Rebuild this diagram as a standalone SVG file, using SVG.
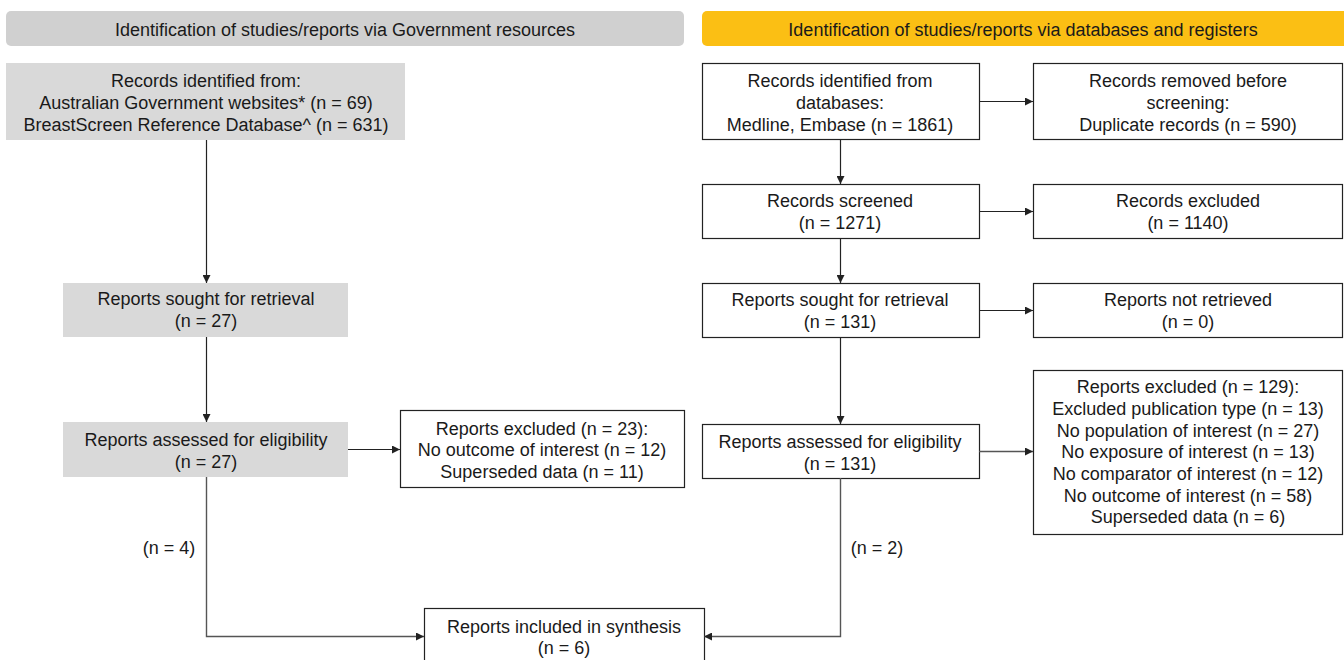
<svg xmlns="http://www.w3.org/2000/svg" width="1344" height="660" viewBox="0 0 1344 660">
<defs>
<style>
text{font-family:"Liberation Sans",Arial,sans-serif;font-size:18px;fill:#1a1a1a;text-anchor:middle}
.grey{fill:#d9d9d9}
.box{fill:#fff;stroke:#222;stroke-width:1.2}
.conn{fill:none;stroke:#222;stroke-width:1.2}
.conn2{fill:none;stroke:#555;stroke-width:1.4}
</style>
<marker id="ah" viewBox="0 0 10 10" refX="10" refY="5" markerWidth="8" markerHeight="8" markerUnits="userSpaceOnUse" orient="auto"><path d="M0,0 L10,5 L0,10 z" fill="#222"/></marker>
</defs>
<rect width="1344" height="660" fill="#fff"/>
<g id="hdr-gov"><rect x="6" y="11" width="678" height="35" rx="5" fill="#d0d0d0"/><text x="345" y="35.5">Identification of studies/reports via Government resources</text></g>
<g id="hdr-db"><rect x="702" y="11" width="648" height="35" rx="5" fill="#fbbf14"/><text x="1023" y="35.5">Identification of studies/reports via databases and registers</text></g>

<g id="gov-identified"><rect class="grey" x="6" y="63" width="399" height="77"/><text x="206" y="86.5">Records identified from:</text><text x="206" y="108.5">Australian Government websites* (n = 69)</text><text x="206" y="130.5">BreastScreen Reference Database^ (n = 631)</text></g>
<g id="gov-sought"><rect class="grey" x="63" y="283" width="285" height="54"/><text x="206" y="304.5">Reports sought for retrieval</text><text x="206" y="326.5">(n = 27)</text></g>
<g id="gov-assessed"><rect class="grey" x="63" y="422" width="285" height="55"/><text x="206" y="445.5">Reports assessed for eligibility</text><text x="206" y="467.5">(n = 27)</text></g>
<g id="gov-excluded"><rect class="box" x="400.5" y="410.5" width="284" height="77"/><text x="542" y="434.5">Reports excluded (n = 23):</text><text x="542" y="455.5">No outcome of interest (n = 12)</text><text x="542" y="477.5">Superseded data (n = 11)</text></g>

<g id="db-identified"><rect class="box" x="702.5" y="63.5" width="277" height="76"/><text x="840" y="86.5">Records identified from</text><text x="840" y="108.5">databases:</text><text x="840" y="130.5">Medline, Embase (n = 1861)</text></g>
<g id="db-removed"><rect class="box" x="1033.5" y="63.5" width="309" height="76"/><text x="1188" y="86.5">Records removed before</text><text x="1188" y="108.5">screening:</text><text x="1188" y="130.5">Duplicate records (n = 590)</text></g>
<g id="db-screened"><rect class="box" x="702.5" y="184.5" width="277" height="54"/><text x="840" y="206.5">Records screened</text><text x="840" y="228.5">(n = 1271)</text></g>
<g id="db-excluded"><rect class="box" x="1033.5" y="184.5" width="309" height="54"/><text x="1188" y="206.5">Records excluded</text><text x="1188" y="228.5">(n = 1140)</text></g>
<g id="db-sought"><rect class="box" x="702.5" y="283.5" width="277" height="54"/><text x="840" y="305.5">Reports sought for retrieval</text><text x="840" y="327.5">(n = 131)</text></g>
<g id="db-notretrieved"><rect class="box" x="1033.5" y="283.5" width="309" height="54"/><text x="1188" y="305.5">Reports not retrieved</text><text x="1188" y="327.5">(n = 0)</text></g>
<g id="db-assessed"><rect class="box" x="702.5" y="424.5" width="277" height="54"/><text x="840" y="447.5">Reports assessed for eligibility</text><text x="840" y="469.5">(n = 131)</text></g>
<g id="db-reportsexcluded"><rect class="box" x="1033.5" y="370.5" width="309" height="164"/><text x="1188" y="392.5">Reports excluded (n = 129):</text><text x="1188" y="414.5">Excluded publication type (n = 13)</text><text x="1188" y="436.5">No population of interest (n = 27)</text><text x="1188" y="457.5">No exposure of interest (n = 13)</text><text x="1188" y="479.5">No comparator of interest (n = 12)</text><text x="1188" y="501.5">No outcome of interest (n = 58)</text><text x="1188" y="522.5">Superseded data (n = 6)</text></g>
<g id="included"><rect class="box" x="424.5" y="608.5" width="280" height="60"/><text x="564" y="632.5">Reports included in synthesis</text><text x="564" y="653.5">(n = 6)</text></g>

<g id="connectors">
<path class="conn" d="M206.5,140 V283" marker-end="url(#ah)"/>
<path class="conn" d="M206.5,337 V422" marker-end="url(#ah)"/>
<path class="conn" d="M348,449.5 H400" marker-end="url(#ah)"/>
<path class="conn2" d="M206.5,477 V636.5 H424" marker-end="url(#ah)"/>
<path class="conn" d="M840.5,139 V184" marker-end="url(#ah)"/>
<path class="conn" d="M979,101.5 H1033" marker-end="url(#ah)"/>
<path class="conn" d="M840.5,238 V283" marker-end="url(#ah)"/>
<path class="conn" d="M979,211.5 H1033" marker-end="url(#ah)"/>
<path class="conn" d="M840.5,337 V424" marker-end="url(#ah)"/>
<path class="conn" d="M979,310.5 H1033" marker-end="url(#ah)"/>
<path class="conn2" d="M979,451.5 H1033" marker-end="url(#ah)"/>
<path class="conn2" d="M840.5,478 V636.5 H704" marker-end="url(#ah)"/>
<text x="169" y="553.5">(n = 4)</text>
<text x="877" y="553.5">(n = 2)</text>
</g>
</svg>
